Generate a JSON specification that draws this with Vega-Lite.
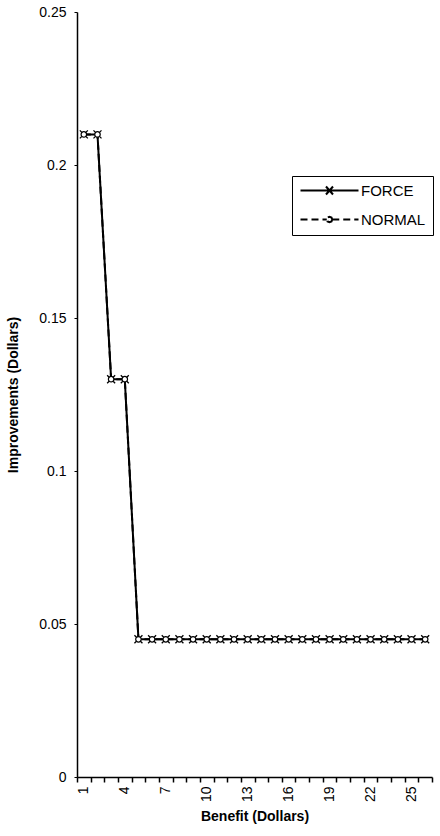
{
  "$schema": "https://vega.github.io/schema/vega-lite/v6.json",
  "width": 355,
  "height": 765,
  "autosize": {"type": "none"},
  "padding": {"left": 77, "top": 12, "right": 8, "bottom": 59},
  "background": "white",
  "config": {
    "view": {"stroke": null},
    "font": "Liberation Sans",
    "axis": {"domainColor": "black", "tickColor": "black", "labelColor": "black", "titleColor": "black", "labelFont": "Liberation Sans", "titleFont": "Liberation Sans", "grid": false, "domainWidth": 1.5}
  },
  "data": {
    "values": [
      {"x": 1, "series": "FORCE", "y": 0.21}, {"x": 2, "series": "FORCE", "y": 0.21},
      {"x": 3, "series": "FORCE", "y": 0.13}, {"x": 4, "series": "FORCE", "y": 0.13},
      {"x": 5, "series": "FORCE", "y": 0.045}, {"x": 6, "series": "FORCE", "y": 0.045},
      {"x": 7, "series": "FORCE", "y": 0.045}, {"x": 8, "series": "FORCE", "y": 0.045},
      {"x": 9, "series": "FORCE", "y": 0.045}, {"x": 10, "series": "FORCE", "y": 0.045},
      {"x": 11, "series": "FORCE", "y": 0.045}, {"x": 12, "series": "FORCE", "y": 0.045},
      {"x": 13, "series": "FORCE", "y": 0.045}, {"x": 14, "series": "FORCE", "y": 0.045},
      {"x": 15, "series": "FORCE", "y": 0.045}, {"x": 16, "series": "FORCE", "y": 0.045},
      {"x": 17, "series": "FORCE", "y": 0.045}, {"x": 18, "series": "FORCE", "y": 0.045},
      {"x": 19, "series": "FORCE", "y": 0.045}, {"x": 20, "series": "FORCE", "y": 0.045},
      {"x": 21, "series": "FORCE", "y": 0.045}, {"x": 22, "series": "FORCE", "y": 0.045},
      {"x": 23, "series": "FORCE", "y": 0.045}, {"x": 24, "series": "FORCE", "y": 0.045},
      {"x": 25, "series": "FORCE", "y": 0.045}, {"x": 26, "series": "FORCE", "y": 0.045},
      {"x": 1, "series": "NORMAL", "y": 0.21}, {"x": 2, "series": "NORMAL", "y": 0.21},
      {"x": 3, "series": "NORMAL", "y": 0.13}, {"x": 4, "series": "NORMAL", "y": 0.13},
      {"x": 5, "series": "NORMAL", "y": 0.045}, {"x": 6, "series": "NORMAL", "y": 0.045},
      {"x": 7, "series": "NORMAL", "y": 0.045}, {"x": 8, "series": "NORMAL", "y": 0.045},
      {"x": 9, "series": "NORMAL", "y": 0.045}, {"x": 10, "series": "NORMAL", "y": 0.045},
      {"x": 11, "series": "NORMAL", "y": 0.045}, {"x": 12, "series": "NORMAL", "y": 0.045},
      {"x": 13, "series": "NORMAL", "y": 0.045}, {"x": 14, "series": "NORMAL", "y": 0.045},
      {"x": 15, "series": "NORMAL", "y": 0.045}, {"x": 16, "series": "NORMAL", "y": 0.045},
      {"x": 17, "series": "NORMAL", "y": 0.045}, {"x": 18, "series": "NORMAL", "y": 0.045},
      {"x": 19, "series": "NORMAL", "y": 0.045}, {"x": 20, "series": "NORMAL", "y": 0.045},
      {"x": 21, "series": "NORMAL", "y": 0.045}, {"x": 22, "series": "NORMAL", "y": 0.045},
      {"x": 23, "series": "NORMAL", "y": 0.045}, {"x": 24, "series": "NORMAL", "y": 0.045},
      {"x": 25, "series": "NORMAL", "y": 0.045}, {"x": 26, "series": "NORMAL", "y": 0.045}
    ]
  },
  "encoding": {
    "x": {
      "field": "x", "type": "ordinal", "bandPosition": 0.5,
      "scale": {"type": "band", "paddingInner": 0, "paddingOuter": 0},
      "axis": {
        "title": "Benefit (Dollars)", "titleFontSize": 14, "titleFontWeight": "bold", "titlePadding": 8,
        "labelAngle": -90, "labelAlign": "right", "labelBaseline": "middle", "labelFontSize": 14,
        "labelPadding": 4, "tickSize": 5, "tickBand": "extent", "tickWidth": 1.5,
        "labelExpr": "(datum.value - 1) % 3 == 0 ? datum.label : ''"
      }
    },
    "y": {
      "field": "y", "type": "quantitative",
      "scale": {"domain": [0, 0.25], "nice": false},
      "axis": {
        "title": "Improvements (Dollars)", "titleFontSize": 14, "titleFontWeight": "bold", "titlePadding": 18,
        "values": [0, 0.05, 0.1, 0.15, 0.2, 0.25], "format": "~g",
        "labelFontSize": 14, "labelPadding": 8, "tickSize": 3
      }
    }
  },
  "layer": [
    {
      "mark": {"type": "line", "color": "black", "strokeWidth": 2},
      "encoding": {
        "detail": {"field": "series"},
        "strokeDash": {
          "field": "series", "type": "nominal",
          "scale": {"domain": ["FORCE", "NORMAL"], "range": [[1, 0], [7, 4]]},
          "legend": {
            "title": null, "orient": "none", "legendX": 215, "legendY": 164,
            "strokeColor": "black", "fillColor": "white", "padding": 7,
            "symbolType": "M-5.8,0L5.8,0M-0.7,-0.8L0.7,0.8M-0.7,0.8L0.7,-0.8",
            "symbolFillColor": "transparent",
            "symbolStrokeColor": "black", "symbolStrokeWidth": 2,
            "symbolSize": 100, "symbolOffset": 23,
            "labelFont": "Liberation Sans", "labelFontSize": 15, "labelColor": "black",
            "labelOffset": 24, "rowPadding": 13,
            "encode": {
              "symbols": {
                "update": {
                  "size": {"value": 100},
                  "fill": {"value": "transparent"},
                  "shape": {"signal": "datum.value === 'FORCE' ? 'M-5.8,0L5.8,0M-0.7,-0.8L0.7,0.8M-0.7,0.8L0.7,-0.8' : 'M-5.8,0L-0.55,0M0.55,0L5.8,0M0.55,0L0.4,0.4L0,0.55L-0.4,0.4L-0.55,0L-0.4,-0.4L0,-0.55L0.4,-0.4Z'"}
                }
              }
            }
          }
        }
      }
    },
    {
      "transform": [{"filter": "datum.series === 'FORCE'"}],
      "mark": {"type": "point", "shape": "M-1,-1L1,1M-1,1L1,-1", "size": 64, "filled": false, "stroke": "black", "strokeWidth": 1.3, "opacity": 1}
    },
    {
      "transform": [{"filter": "datum.series === 'NORMAL'"}],
      "mark": {"type": "point", "shape": "circle", "size": 30, "filled": true, "fill": "white", "stroke": "black", "strokeWidth": 1.2, "opacity": 1}
    }
  ]
}
